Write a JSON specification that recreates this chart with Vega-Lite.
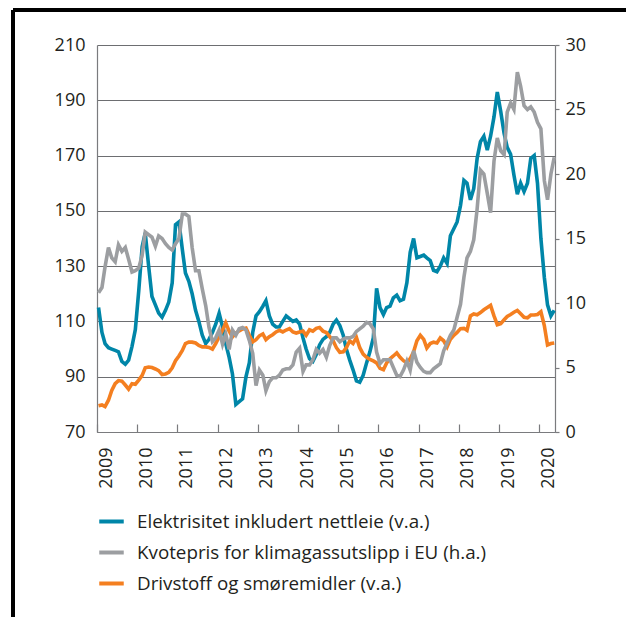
{
  "$schema": "https://vega.github.io/schema/vega-lite/v6.json",
  "width": 458,
  "height": 387,
  "autosize": {"type": "none"},
  "padding": {"left": 97, "top": 45, "right": 71, "bottom": 185},
  "background": "white",
  "config": {
    "view": {"stroke": null},
    "font": "Open Sans",
    "axis": {"labelFont": "Open Sans", "labelColor": "#231f20", "labelFontSize": 18, "domainColor": "#7a7b7e", "tickColor": "#7a7b7e", "gridColor": "#6d6e71", "domainWidth": 1.2, "gridWidth": 1.2, "tickWidth": 1.2, "titleFontSize": 0}
  },
  "data": {"values": [
    {"t":"2009-01-15","E":115,"K":10.8,"D":79.5},{"t":"2009-02-15","E":106,"K":11.2,"D":79.8},{"t":"2009-03-15","E":102,"K":12.8,"D":79.2},{"t":"2009-04-15","E":100.5,"K":14.3,"D":81.5},{"t":"2009-05-15","E":100,"K":13.5,"D":85},{"t":"2009-06-15","E":99.5,"K":13.2,"D":87.5},{"t":"2009-07-15","E":99,"K":14.5,"D":88.6},{"t":"2009-08-15","E":95.5,"K":14.0,"D":88.4},{"t":"2009-09-15","E":94.5,"K":14.3,"D":87},{"t":"2009-10-15","E":96,"K":13.4,"D":85.5},{"t":"2009-11-15","E":101,"K":12.4,"D":87.5},{"t":"2009-12-15","E":107,"K":12.5,"D":87.3},
    {"t":"2010-01-15","E":121,"K":12.7,"D":88.8},{"t":"2010-02-15","E":137,"K":13.7,"D":90.5},{"t":"2010-03-15","E":142,"K":15.5,"D":93.2},{"t":"2010-04-15","E":130,"K":15.3,"D":93.5},{"t":"2010-05-15","E":119,"K":15.1,"D":93.3},{"t":"2010-06-15","E":116,"K":14.4,"D":92.8},{"t":"2010-07-15","E":113,"K":15.2,"D":92.2},{"t":"2010-08-15","E":111.5,"K":15.0,"D":90.8},{"t":"2010-09-15","E":114,"K":14.6,"D":91},{"t":"2010-10-15","E":117,"K":14.3,"D":91.6},{"t":"2010-11-15","E":124,"K":14.1,"D":93.2},{"t":"2010-12-15","E":145,"K":14.6,"D":95.8},
    {"t":"2011-01-15","E":146,"K":15.0,"D":97.5},{"t":"2011-02-15","E":136,"K":16.9,"D":99.5},{"t":"2011-03-15","E":127.5,"K":16.9,"D":102},{"t":"2011-04-15","E":124.5,"K":16.7,"D":102.5},{"t":"2011-05-15","E":120,"K":14.3,"D":102.5},{"t":"2011-06-15","E":114,"K":12.5,"D":102.2},{"t":"2011-07-15","E":110,"K":12.5,"D":101.3},{"t":"2011-08-15","E":105,"K":11.1,"D":100.8},{"t":"2011-09-15","E":102,"K":9.8,"D":100.8},{"t":"2011-10-15","E":103.5,"K":8.1,"D":100.6},{"t":"2011-11-15","E":106,"K":7.0,"D":100},{"t":"2011-12-15","E":109,"K":7.3,"D":102},
    {"t":"2012-01-15","E":113,"K":7.9,"D":104.5},{"t":"2012-02-15","E":108,"K":6.8,"D":106.8},{"t":"2012-03-15","E":102,"K":7.6,"D":109.5},{"t":"2012-04-15","E":97,"K":6.4,"D":106.5},{"t":"2012-05-15","E":91,"K":7.9,"D":104.4},{"t":"2012-06-15","E":80,"K":7.5,"D":105.8},{"t":"2012-07-15","E":81,"K":8.0,"D":106.6},{"t":"2012-08-15","E":82,"K":8.1,"D":107.3},{"t":"2012-09-15","E":90,"K":7.9,"D":107.6},{"t":"2012-10-15","E":95,"K":7.1,"D":105},{"t":"2012-11-15","E":106,"K":6.1,"D":102.6},{"t":"2012-12-15","E":112,"K":3.6,"D":103.4},
    {"t":"2013-01-15","E":113.5,"K":4.8,"D":104.8},{"t":"2013-02-15","E":115.5,"K":4.4,"D":105.5},{"t":"2013-03-15","E":117.5,"K":3.2,"D":103.4},{"t":"2013-04-15","E":112,"K":3.9,"D":104.5},{"t":"2013-05-15","E":109,"K":4.2,"D":105.2},{"t":"2013-06-15","E":108,"K":4.2,"D":106.2},{"t":"2013-07-15","E":108,"K":4.4,"D":106.8},{"t":"2013-08-15","E":110,"K":4.8,"D":106.2},{"t":"2013-09-15","E":112,"K":4.9,"D":106.9},{"t":"2013-10-15","E":111,"K":4.9,"D":107.4},{"t":"2013-11-15","E":110,"K":5.2,"D":106.2},{"t":"2013-12-15","E":110.5,"K":6.2,"D":105.8},
    {"t":"2014-01-15","E":109,"K":6.5,"D":106.2},{"t":"2014-02-15","E":104,"K":4.7,"D":106.5},{"t":"2014-03-15","E":100,"K":5.2,"D":105},{"t":"2014-04-15","E":96.5,"K":5.2,"D":107},{"t":"2014-05-15","E":95.5,"K":5.6,"D":106.5},{"t":"2014-06-15","E":98,"K":6.4,"D":107.5},{"t":"2014-07-15","E":101.5,"K":6.1,"D":107.8},{"t":"2014-08-15","E":103.5,"K":6.4,"D":106.5},{"t":"2014-09-15","E":104.5,"K":5.8,"D":106},{"t":"2014-10-15","E":106,"K":6.7,"D":104.5},{"t":"2014-11-15","E":109,"K":7.3,"D":103},{"t":"2014-12-15","E":110.5,"K":7.3,"D":100.5},
    {"t":"2015-01-15","E":108.5,"K":7.0,"D":98.8},{"t":"2015-02-15","E":105,"K":7.2,"D":99},{"t":"2015-03-15","E":100,"K":7.3,"D":100.5},{"t":"2015-04-15","E":96,"K":7.3,"D":103},{"t":"2015-05-15","E":92.5,"K":7.4,"D":102},{"t":"2015-06-15","E":88.5,"K":7.8,"D":104.2},{"t":"2015-07-15","E":88,"K":8.0,"D":100.5},{"t":"2015-08-15","E":90.5,"K":8.2,"D":98.2},{"t":"2015-09-15","E":95,"K":8.5,"D":97},{"t":"2015-10-15","E":99,"K":8.4,"D":96.3},{"t":"2015-11-15","E":104,"K":8.0,"D":95.7},{"t":"2015-12-15","E":122,"K":6.2,"D":95},
    {"t":"2016-01-15","E":115,"K":5.3,"D":93},{"t":"2016-02-15","E":112.5,"K":5.6,"D":92.5},{"t":"2016-03-15","E":115,"K":5.6,"D":95},{"t":"2016-04-15","E":115.5,"K":5.6,"D":96.5},{"t":"2016-05-15","E":118.5,"K":5.0,"D":97.5},{"t":"2016-06-15","E":119.5,"K":4.4,"D":98.6},{"t":"2016-07-15","E":117.5,"K":4.3,"D":97},{"t":"2016-08-15","E":118,"K":4.8,"D":95.8},{"t":"2016-09-15","E":124,"K":5.5,"D":95},{"t":"2016-10-15","E":135,"K":4.8,"D":96.5},{"t":"2016-11-15","E":140,"K":6.3,"D":99},{"t":"2016-12-15","E":133,"K":5.4,"D":103},
    {"t":"2017-01-15","E":133.5,"K":5.0,"D":105},{"t":"2017-02-15","E":134,"K":4.7,"D":103.5},{"t":"2017-03-15","E":133,"K":4.6,"D":100.4},{"t":"2017-04-15","E":132,"K":4.6,"D":102},{"t":"2017-05-15","E":128.5,"K":4.9,"D":102.5},{"t":"2017-06-15","E":128,"K":5.1,"D":102.2},{"t":"2017-07-15","E":130,"K":5.3,"D":104},{"t":"2017-08-15","E":133,"K":6.3,"D":103},{"t":"2017-09-15","E":131,"K":6.9,"D":100.8},{"t":"2017-10-15","E":141,"K":7.5,"D":103.5},{"t":"2017-11-15","E":143.5,"K":7.9,"D":105},{"t":"2017-12-15","E":146,"K":8.9,"D":106},
    {"t":"2018-01-15","E":152,"K":9.9,"D":107.4},{"t":"2018-02-15","E":161,"K":12.0,"D":107.5},{"t":"2018-03-15","E":160,"K":13.5,"D":106.8},{"t":"2018-04-15","E":154,"K":14.0,"D":112},{"t":"2018-05-15","E":158,"K":14.9,"D":112.7},{"t":"2018-06-15","E":169,"K":17.3,"D":112.4},{"t":"2018-07-15","E":175,"K":20.3,"D":113.2},{"t":"2018-08-15","E":177,"K":20.0,"D":114.2},{"t":"2018-09-15","E":172,"K":18.5,"D":115},{"t":"2018-10-15","E":177,"K":17.0,"D":115.8},{"t":"2018-11-15","E":184,"K":21.0,"D":112},{"t":"2018-12-15","E":193,"K":22.8,"D":108.8},
    {"t":"2019-01-15","E":186,"K":21.8,"D":109.2},{"t":"2019-02-15","E":178,"K":21.5,"D":110.6},{"t":"2019-03-15","E":173,"K":24.8,"D":111.8},{"t":"2019-04-15","E":170.5,"K":25.5,"D":112.5},{"t":"2019-05-15","E":163,"K":25.0,"D":113.3},{"t":"2019-06-15","E":156,"K":27.9,"D":114},{"t":"2019-07-15","E":160,"K":26.8,"D":112.8},{"t":"2019-08-15","E":157,"K":25.3,"D":111.5},{"t":"2019-09-15","E":160,"K":25.0,"D":111.3},{"t":"2019-10-15","E":169,"K":25.2,"D":112.3},{"t":"2019-11-15","E":170,"K":24.8,"D":112.3},{"t":"2019-12-15","E":160,"K":24.0,"D":112.5},
    {"t":"2020-01-15","E":140,"K":23.5,"D":113.5},{"t":"2020-02-15","E":126,"K":19.5,"D":108.5},{"t":"2020-03-15","E":116,"K":18.0,"D":101.5},{"t":"2020-04-15","E":112,"K":20.0,"D":102},{"t":"2020-05-15","E":114,"K":21.3,"D":102.2}
  ]},
  "layer": [
    {
      "layer": [
        {
          "mark": {"type": "rule", "color": "#000000", "strokeWidth": 2.5},
          "encoding": {
            "x": {"datum": {"year": 2006, "month": 12, "date": 2, "utc": true}, "type": "temporal"},
            "y": {"datum": 222.7, "type": "quantitative"},
            "y2": {"datum": -20}
          }
        },
        {
          "mark": {"type": "rule", "color": "#000000", "strokeWidth": 2.5},
          "encoding": {
            "x": {"datum": {"year": 2006, "month": 12, "date": 2, "utc": true}, "type": "temporal"},
            "x2": {"datum": {"year": 2022, "month": 6, "date": 1, "utc": true}},
            "y": {"datum": 222.7, "type": "quantitative"}
          }
        },
        {
          "transform": [{"fold": ["E", "D"], "as": ["s", "v"]}],
          "mark": {"type": "line", "strokeWidth": 3.6},
          "encoding": {
            "x": {
              "field": "t", "type": "temporal",
              "scale": {"type": "utc", "nice": false, "domain": [{"year": 2009, "month": 1, "date": 1, "utc": true}, {"year": 2020, "month": 5, "date": 22, "utc": true}]},
              "axis": {
                "title": null, "grid": false, "format": "%Y",
                "values": [
                  {"year": 2009, "month": 1, "date": 1, "utc": true}, {"year": 2010, "month": 1, "date": 1, "utc": true}, {"year": 2011, "month": 1, "date": 1, "utc": true}, {"year": 2012, "month": 1, "date": 1, "utc": true}, {"year": 2013, "month": 1, "date": 1, "utc": true}, {"year": 2014, "month": 1, "date": 1, "utc": true}, {"year": 2015, "month": 1, "date": 1, "utc": true}, {"year": 2016, "month": 1, "date": 1, "utc": true}, {"year": 2017, "month": 1, "date": 1, "utc": true}, {"year": 2018, "month": 1, "date": 1, "utc": true}, {"year": 2019, "month": 1, "date": 1, "utc": true}, {"year": 2020, "month": 1, "date": 1, "utc": true}
                ],
                "tickSize": -8, "labelAngle": -90, "labelAlign": "right", "labelBaseline": "middle", "labelOffset": 9, "labelPadding": 23, "labelFlush": false, "labelOverlap": false
              }
            },
            "y": {
              "field": "v", "type": "quantitative",
              "scale": {"domain": [70, 210], "nice": false, "zero": false},
              "axis": {"title": null, "orient": "left", "values": [70, 90, 110, 130, 150, 170, 190, 210], "grid": true, "ticks": false, "tickSize": 0, "labelPadding": 12}
            },
            "color": {
              "field": "s", "type": "nominal",
              "scale": {"domain": ["E", "K", "D"], "range": ["#0086a8", "#9c9ea1", "#f47f20"]},
              "legend": {
                "title": null, "orient": "none", "legendX": 0, "legendY": 462, "direction": "vertical",
                "symbolType": "stroke", "symbolSize": 600, "symbolStrokeWidth": 4,
                "labelFont": "Open Sans", "labelFontSize": 18.8, "labelColor": "#231f20", "labelOffset": 11, "rowPadding": 6,
                "labelLimit": 500,
                "labelExpr": "datum.label == 'E' ? 'Elektrisitet inkludert nettleie (v.a.)' : datum.label == 'K' ? 'Kvotepris for klimagassutslipp i EU (h.a.)' : 'Drivstoff og smøremidler (v.a.)'"
              }
            }
          }
        }
      ]
    },
    {
      "transform": [{"fold": ["K"], "as": ["s", "v"]}],
      "mark": {"type": "line", "strokeWidth": 3.6},
      "encoding": {
        "x": {"field": "t", "type": "temporal"},
        "y": {
          "field": "v", "type": "quantitative",
          "scale": {"domain": [0, 30], "nice": false},
          "axis": {"title": null, "orient": "right", "values": [0, 5, 10, 15, 20, 25, 30], "grid": false, "ticks": true, "tickSize": 4, "labelPadding": 6}
        },
        "color": {"field": "s", "type": "nominal"}
      }
    }
  ],
  "resolve": {"scale": {"y": "independent"}}
}
